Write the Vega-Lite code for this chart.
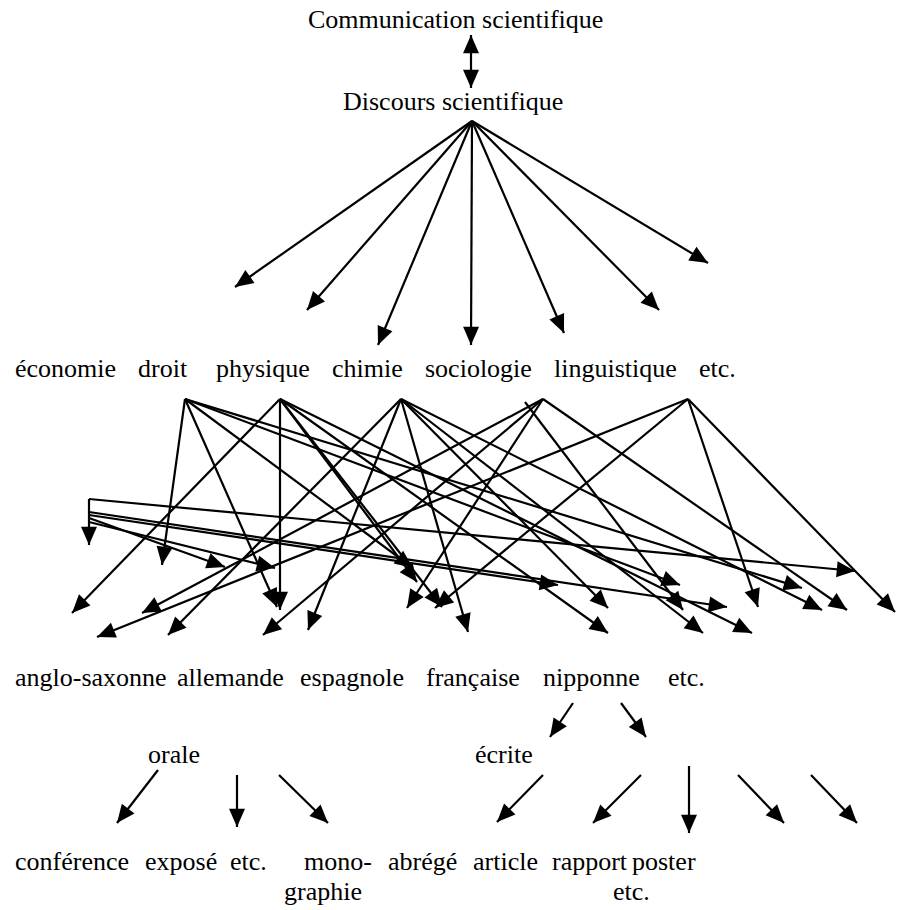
{
  "$schema": "https://vega.github.io/schema/vega-lite/v6.json",
  "width": 897,
  "height": 910,
  "autosize": "none",
  "padding": 0,
  "background": "white",
  "view": {"stroke": null},
  "config": {"axis": {"disable": true}},
  "datasets": {
    "labels": [
      {"text": "Communication scientifique", "x": 308, "y": 28},
      {"text": "Discours scientifique", "x": 343, "y": 110},
      {"text": "économie", "x": 15, "y": 377},
      {"text": "droit", "x": 138, "y": 377},
      {"text": "physique", "x": 216, "y": 377},
      {"text": "chimie", "x": 332, "y": 377},
      {"text": "sociologie", "x": 425, "y": 377},
      {"text": "linguistique", "x": 554, "y": 377},
      {"text": "etc.", "x": 699, "y": 377},
      {"text": "anglo-saxonne", "x": 15, "y": 686},
      {"text": "allemande", "x": 177, "y": 686},
      {"text": "espagnole", "x": 300, "y": 686},
      {"text": "française", "x": 426, "y": 686},
      {"text": "nipponne", "x": 543, "y": 686},
      {"text": "etc.", "x": 668, "y": 686},
      {"text": "orale", "x": 148, "y": 763},
      {"text": "écrite", "x": 475, "y": 763},
      {"text": "conférence", "x": 15, "y": 870},
      {"text": "exposé", "x": 145, "y": 870},
      {"text": "etc.", "x": 230, "y": 870},
      {"text": "mono-", "x": 304, "y": 870},
      {"text": "abrégé", "x": 388, "y": 870},
      {"text": "article", "x": 473, "y": 870},
      {"text": "rapport", "x": 552, "y": 870},
      {"text": "poster", "x": 632, "y": 870},
      {"text": "graphie", "x": 284, "y": 900},
      {"text": "etc.", "x": 613, "y": 900}
    ],
    "arrows": [
      {"x0": 471, "y0": 61, "x1": 471, "y1": 35},
      {"x0": 471, "y0": 61, "x1": 471, "y1": 88},
      {"x0": 472, "y0": 121, "x1": 235, "y1": 287},
      {"x0": 472, "y0": 121, "x1": 307, "y1": 310},
      {"x0": 472, "y0": 121, "x1": 378, "y1": 345},
      {"x0": 472, "y0": 121, "x1": 471, "y1": 345},
      {"x0": 472, "y0": 121, "x1": 564, "y1": 333},
      {"x0": 472, "y0": 121, "x1": 659, "y1": 310},
      {"x0": 472, "y0": 121, "x1": 708, "y1": 263},
      {"x0": 89, "y0": 499, "x1": 89, "y1": 545},
      {"x0": 89, "y0": 499, "x1": 855, "y1": 571},
      {"x0": 89, "y0": 512, "x1": 727, "y1": 607},
      {"x0": 89, "y0": 515, "x1": 558, "y1": 585},
      {"x0": 89, "y0": 518, "x1": 225, "y1": 567},
      {"x0": 89, "y0": 522, "x1": 275, "y1": 568},
      {"x0": 185, "y0": 399, "x1": 162, "y1": 565},
      {"x0": 185, "y0": 399, "x1": 277, "y1": 607},
      {"x0": 185, "y0": 399, "x1": 413, "y1": 568},
      {"x0": 185, "y0": 399, "x1": 680, "y1": 585},
      {"x0": 185, "y0": 399, "x1": 802, "y1": 588},
      {"x0": 280, "y0": 399, "x1": 72, "y1": 613},
      {"x0": 280, "y0": 399, "x1": 280, "y1": 610},
      {"x0": 280, "y0": 399, "x1": 417, "y1": 582},
      {"x0": 280, "y0": 399, "x1": 442, "y1": 607},
      {"x0": 280, "y0": 399, "x1": 608, "y1": 633},
      {"x0": 280, "y0": 399, "x1": 752, "y1": 633},
      {"x0": 401, "y0": 399, "x1": 168, "y1": 635},
      {"x0": 401, "y0": 399, "x1": 308, "y1": 630},
      {"x0": 401, "y0": 399, "x1": 468, "y1": 632},
      {"x0": 401, "y0": 399, "x1": 608, "y1": 608},
      {"x0": 401, "y0": 399, "x1": 703, "y1": 633},
      {"x0": 401, "y0": 399, "x1": 822, "y1": 610},
      {"x0": 525, "y0": 402, "x1": 683, "y1": 610},
      {"x0": 543, "y0": 399, "x1": 142, "y1": 613},
      {"x0": 543, "y0": 399, "x1": 263, "y1": 635},
      {"x0": 543, "y0": 399, "x1": 407, "y1": 608},
      {"x0": 543, "y0": 399, "x1": 847, "y1": 610},
      {"x0": 688, "y0": 399, "x1": 97, "y1": 637},
      {"x0": 688, "y0": 399, "x1": 435, "y1": 608},
      {"x0": 688, "y0": 399, "x1": 758, "y1": 607},
      {"x0": 688, "y0": 399, "x1": 895, "y1": 612},
      {"x0": 573, "y0": 703, "x1": 550, "y1": 737},
      {"x0": 621, "y0": 703, "x1": 646, "y1": 737},
      {"x0": 158, "y0": 770, "x1": 117, "y1": 823},
      {"x0": 237, "y0": 775, "x1": 237, "y1": 827},
      {"x0": 279, "y0": 775, "x1": 328, "y1": 823},
      {"x0": 543, "y0": 775, "x1": 497, "y1": 822},
      {"x0": 641, "y0": 775, "x1": 593, "y1": 823},
      {"x0": 689, "y0": 766, "x1": 689, "y1": 833},
      {"x0": 738, "y0": 775, "x1": 784, "y1": 823},
      {"x0": 811, "y0": 775, "x1": 857, "y1": 823}
    ]
  },
  "layer": [
    {
      "data": {"name": "arrows"},
      "mark": {"type": "rule", "color": "black", "strokeWidth": 2.2},
      "encoding": {
        "x": {"field": "x0", "type": "quantitative", "scale": {"domain": [0, 897], "nice": false, "zero": false}, "axis": null},
        "y": {"field": "y0", "type": "quantitative", "scale": {"domain": [0, 910], "nice": false, "zero": false, "reverse": true}, "axis": null},
        "x2": {"field": "x1"},
        "y2": {"field": "y1"}
      }
    },
    {
      "data": {"name": "arrows"},
      "transform": [
        {"calculate": "atan2(datum.x1 - datum.x0, datum.y0 - datum.y1) * 180 / PI", "as": "angle"}
      ],
      "mark": {"type": "point", "shape": "M0,0L-0.7,1.6L0.7,1.6Z", "filled": true, "color": "black", "opacity": 1, "size": 520, "strokeWidth": 0},
      "encoding": {
        "x": {"field": "x1", "type": "quantitative"},
        "y": {"field": "y1", "type": "quantitative"},
        "angle": {"field": "angle", "type": "quantitative", "scale": null}
      }
    },
    {
      "data": {"name": "labels"},
      "mark": {"type": "text", "align": "left", "baseline": "alphabetic", "font": "Liberation Serif, Times New Roman, serif", "fontSize": 26, "color": "black"},
      "encoding": {
        "x": {"field": "x", "type": "quantitative"},
        "y": {"field": "y", "type": "quantitative"},
        "text": {"field": "text", "type": "nominal"}
      }
    }
  ]
}
